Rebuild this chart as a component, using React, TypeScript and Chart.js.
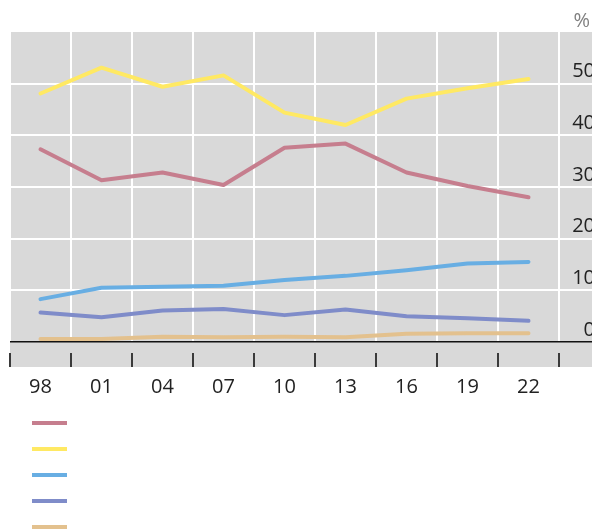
import React, { useEffect, useRef } from 'react';
import { Chart, registerables } from 'chart.js';

Chart.register(...registerables);

const years = ['98', '01', '04', '07', '10', '13', '16', '19', '22'];
const seriesRed = [37.3, 31.3, 32.8, 30.4, 37.6, 38.4, 32.8, 30.2, 28.0];
const seriesYellow = [48.1, 53.1, 49.4, 51.6, 44.4, 42.0, 47.1, 49.1, 50.9];
const seriesBlue = [8.3, 10.5, 10.7, 10.9, 12.0, 12.8, 13.9, 15.2, 15.5];
const seriesPurple = [5.7, 4.8, 6.1, 6.4, 5.2, 6.3, 5.0, 4.6, 4.1];
const seriesTan = [0.6, 0.6, 1.0, 0.9, 1.0, 0.9, 1.6, 1.7, 1.7];
const yTickValues = [0, 10, 20, 30, 40, 50, 60];
const unitLabel = '%';

const FONT = "'Open Sans', 'DejaVu Sans', sans-serif";
const CANVAS_W = 595;
const CANVAS_H = 530;

const decorPlugin = {
  id: 'decor',
  beforeDraw(chart: any) {
    const { ctx, chartArea, width } = chart;
    ctx.save();
    ctx.fillStyle = '#d9d9d9';
    ctx.fillRect(chartArea.left, chartArea.top, width - chartArea.left, chartArea.bottom - chartArea.top + 25);
    ctx.restore();
  },
  afterDraw(chart: any) {
    const { ctx, chartArea } = chart;
    const x = chart.scales.x;
    const y = chart.scales.y;
    const n = x.ticks.length;
    const step = n > 1 ? x.getPixelForValue(1) - x.getPixelForValue(0) : x.width;
    ctx.save();
    ctx.strokeStyle = '#3a3a3a';
    ctx.lineWidth = 2;
    for (let i = 0; i <= n; i++) {
      const px = Math.round(x.getPixelForValue(0) - step / 2 + i * step);
      ctx.beginPath();
      ctx.moveTo(px, chartArea.bottom + 11);
      ctx.lineTo(px, chartArea.bottom + 25);
      ctx.stroke();
    }
    // unit label above the axis
    ctx.fillStyle = '#808080';
    ctx.font = `20px ${FONT}`;
    ctx.textAlign = 'right';
    ctx.textBaseline = 'middle';
    ctx.fillText(unitLabel, 590, y.getPixelForValue(y.max) - 11);
    // legend swatches (no text in the reference)
    chart.data.datasets.forEach((ds: any, i: number) => {
      const ly = 423 + i * 26;
      ctx.strokeStyle = ds.borderColor;
      ctx.lineWidth = 4;
      ctx.beginPath();
      ctx.moveTo(32, ly);
      ctx.lineTo(67, ly);
      ctx.stroke();
    });
    ctx.restore();
  },
};

export default function App() {
  const canvasRef = useRef<HTMLCanvasElement | null>(null);

  useEffect(() => {
    if (!canvasRef.current) return;
    const mk = (label: string, data: number[], color: string) => ({
      label,
      data,
      borderColor: color,
      backgroundColor: color,
      borderWidth: 4,
      pointRadius: 0,
      tension: 0,
      borderCapStyle: 'round' as const,
      borderJoinStyle: 'round' as const,
      fill: false,
    });
    const gridCol = (c: any) =>
      c.tick && c.tick.value === 0 ? '#111111' : c.tick && c.tick.value === 60 ? 'rgba(0,0,0,0)' : '#ffffff';
    const chart = new Chart(canvasRef.current, {
      type: 'line',
      data: {
        labels: years,
        datasets: [
          mk('Series 1', seriesRed, '#c67e8e'),
          mk('Series 2', seriesYellow, '#ffe963'),
          mk('Series 3', seriesBlue, '#68aee3'),
          mk('Series 4', seriesPurple, '#7f8cc9'),
          mk('Series 5', seriesTan, '#e3c18e'),
        ],
      },
      options: {
        responsive: false,
        animation: false,
        devicePixelRatio: 1,
        layout: { padding: { left: 10, top: 32, right: 0, bottom: 128 } },
        plugins: { legend: { display: false }, tooltip: { enabled: false } },
        scales: {
          x: {
            offset: true,
            grid: { offset: true, color: '#ffffff', lineWidth: 2, drawTicks: false },
            border: { display: false },
            ticks: {
              padding: 33,
              maxRotation: 0,
              autoSkip: false,
              color: '#222222',
              font: { family: FONT, size: 20 },
            },
            afterFit: (s: any) => {
              s.height = 60;
              s.paddingLeft = 0;
              s.paddingRight = 0;
            },
          },
          y: {
            position: 'right',
            min: 0,
            max: 60,
            afterBuildTicks: (s: any) => {
              s.ticks = yTickValues.map((v) => ({ value: v }));
            },
            grid: {
              color: gridCol,
              tickColor: gridCol,
              lineWidth: (c: any) => (c.tick && c.tick.value === 0 ? 1.5 : 2),
              drawTicks: true,
              tickLength: 36,
            },
            border: { display: false },
            ticks: {
              padding: 0,
              crossAlign: 'far',
              labelOffset: -12,
              color: '#222222',
              font: { family: FONT, size: 20 },
              callback: (v: any) => (Number(v) === 60 ? '' : String(v)),
            },
            afterFit: (s: any) => {
              s.width = 36;
            },
          },
        },
      },
      plugins: [decorPlugin],
    });
    return () => chart.destroy();
  }, []);

  return (
    <div
      style={{
        position: 'fixed',
        left: 0,
        top: 0,
        width: 592,
        height: 530,
        overflow: 'hidden',
        background: '#ffffff',
      }}
    >
      <canvas
        ref={canvasRef}
        width={CANVAS_W}
        height={CANVAS_H}
        style={{ display: 'block', width: CANVAS_W, height: CANVAS_H }}
      />
    </div>
  );
}
